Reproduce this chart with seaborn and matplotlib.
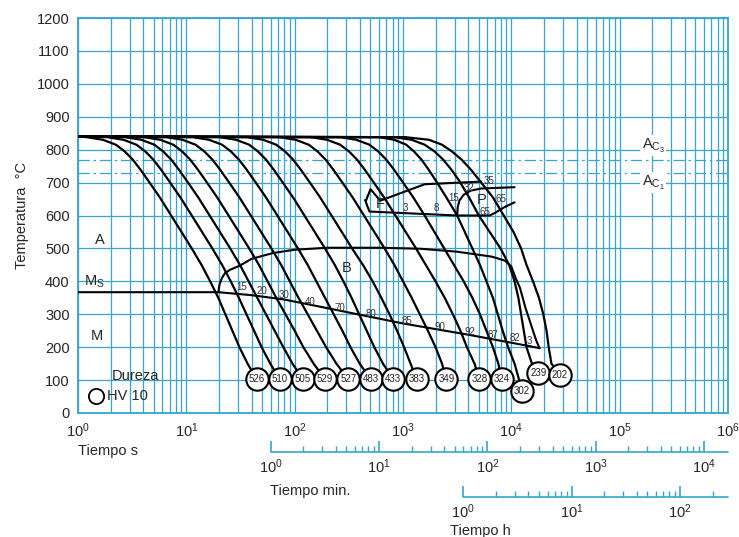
import numpy as np
import pandas as pd
import matplotlib
matplotlib.use('Agg')
import matplotlib.pyplot as plt
from matplotlib.ticker import FixedLocator, NullLocator, MultipleLocator
import seaborn as sns

# --- values (time as log10 of seconds, temperature in degC) ---
T_aust = 840
Ac3 = 770
Ac1 = 730

# temperatures at which each cooling curve was read
temp_levels = [838, 830, 815, 795, 770, 740, 705, 655, 600, 550, 500, 450, 400, 350, 300, 250, 200, 150]

hardness = [526, 510, 505, 529, 527, 483, 433, 383, 349, 328, 324, 302, 239, 202]
circle_logt = [1.65, 1.86, 2.075, 2.28, 2.495, 2.70, 2.91, 3.125, 3.40, 3.705, 3.91, 4.10, 4.25, 4.45]
circle_temp = [103, 103, 103, 103, 103, 103, 103, 103, 103, 103, 103, 67, 122, 116]

# log10(t) where each curve crosses temp_levels
crossing_logt = [
    [0.08, 0.23, 0.35, 0.43, 0.505, 0.575, 0.65, 0.755, 0.86, 0.955, 1.05, 1.14, 1.22, 1.295, 1.36, 1.425, 1.49, 1.565],
    [0.27, 0.42, 0.54, 0.62, 0.695, 0.765, 0.84, 0.945, 1.05, 1.145, 1.24, 1.33, 1.41, 1.485, 1.555, 1.625, 1.695, 1.775],
    [0.435, 0.585, 0.705, 0.785, 0.86, 0.93, 1.005, 1.11, 1.215, 1.31, 1.405, 1.495, 1.575, 1.655, 1.735, 1.815, 1.895, 1.98],
    [0.61, 0.76, 0.88, 0.96, 1.035, 1.105, 1.18, 1.285, 1.39, 1.485, 1.58, 1.67, 1.75, 1.83, 1.915, 2.00, 2.08, 2.175],
    [0.815, 0.965, 1.085, 1.165, 1.24, 1.31, 1.385, 1.49, 1.595, 1.69, 1.785, 1.875, 1.955, 2.035, 2.12, 2.205, 2.29, 2.385],
    [1.06, 1.21, 1.33, 1.41, 1.485, 1.555, 1.63, 1.735, 1.84, 1.935, 2.03, 2.12, 2.20, 2.28, 2.36, 2.44, 2.515, 2.60],
    [1.31, 1.46, 1.58, 1.66, 1.735, 1.805, 1.88, 1.985, 2.09, 2.185, 2.28, 2.37, 2.45, 2.525, 2.595, 2.665, 2.735, 2.815],
    [1.56, 1.71, 1.83, 1.91, 1.985, 2.055, 2.13, 2.235, 2.34, 2.435, 2.53, 2.63, 2.72, 2.80, 2.875, 2.945, 3.01, 3.07],
    [1.86, 2.01, 2.13, 2.21, 2.285, 2.355, 2.43, 2.535, 2.64, 2.735, 2.83, 2.92, 3.00, 3.08, 3.155, 3.23, 3.30, 3.36],
    [2.15, 2.30, 2.42, 2.50, 2.575, 2.645, 2.72, 2.825, 2.93, 3.025, 3.12, 3.21, 3.30, 3.385, 3.46, 3.53, 3.59, 3.66],
    [2.42, 2.57, 2.69, 2.77, 2.845, 2.915, 2.99, 3.095, 3.20, 3.29, 3.38, 3.47, 3.56, 3.64, 3.71, 3.77, 3.83, 3.88],
    [2.78, 2.92, 3.03, 3.10, 3.17, 3.235, 3.305, 3.40, 3.50, 3.57, 3.64, 3.71, 3.77, 3.83, 3.875, 3.92, 3.97, 4.03],
    [2.92, 3.08, 3.20, 3.29, 3.37, 3.445, 3.52, 3.61, 3.70, 3.80, 3.90, 3.98, 4.03, 4.065, 4.09, 4.115, 4.14, 4.19],
    [3.02, 3.24, 3.36, 3.45, 3.54, 3.625, 3.71, 3.83, 3.93, 4.02, 4.09, 4.14, 4.20, 4.255, 4.295, 4.325, 4.345, 4.37],
]

# bainite region: upper boundary and Ms / lower boundary
bain_top_logt = [1.296, 1.305, 1.327, 1.357, 1.403, 1.496, 1.60, 1.80, 2.0, 2.3, 2.8, 3.16, 3.5, 3.82, 3.94, 4.00, 4.04, 4.08, 4.13, 4.18, 4.23, 4.26]
bain_top_temp = [367, 389, 409, 425, 435, 448, 468, 486, 496, 502, 502, 499, 490, 475, 463, 445, 410, 380, 320, 270, 220, 197]
ms_logt = [0.0, 1.296, 1.6, 1.9, 2.4, 3.0, 3.6, 4.17, 4.26]
ms_temp = [367, 367, 358, 345, 312, 272, 238, 203, 197]

# ferrite region outline (top line, nose, bottom line, pearlite end)
ferr_logt = [3.72, 3.20, 2.79, 2.70, 2.66, 2.65, 2.66, 2.69, 2.79, 3.50, 3.80, 3.86, 3.94, 4.03]
ferr_temp = [703, 695, 688, 680, 665, 647, 628, 612, 602, 600, 600, 610, 626, 640]
# pearlite start
pearl_logt = [3.50, 3.505, 3.52, 3.56, 3.62, 3.72, 4.03]
pearl_temp = [600, 625, 645, 663, 675, 682, 686]

bain_pct = ['15', '20', '30', '40', '70', '80', '85', '90', '92', '87', '82', '3']
bain_pct_logt = [1.51, 1.70, 1.90, 2.14, 2.42, 2.70, 3.035, 3.34, 3.62, 3.835, 4.035, 4.17]
bain_pct_temp = [384, 372, 359, 338, 318, 300, 280, 262, 245, 237, 227, 219]

fp_pct = ['3', '8', '15', '32', '35', '65', '65']
fp_pct_logt = [3.02, 3.31, 3.466, 3.61, 3.79, 3.90, 3.76]
fp_pct_temp = [622, 622, 654, 683, 705, 650, 612]

GRID = '#36a5cf'
W, H = 739, 537

sns.set_style('white')
plt.rcParams['font.family'] = ['Liberation Sans', 'DejaVu Sans']
plt.rcParams['mathtext.fontset'] = 'custom'
plt.rcParams['mathtext.rm'] = 'Liberation Sans'
plt.rcParams['mathtext.default'] = 'rm'

fig = plt.figure(figsize=(W / 100, H / 100), dpi=100)
ax = fig.add_axes([78 / W, (H - 413) / H, 650 / W, 395 / H])

# cooling curves: all start at 1 s from the austenitizing temperature and end in their hardness circle
rows = []
for h, lt, ct, ctemp in zip(hardness, crossing_logt, circle_logt, circle_temp):
    xs = [0.0] + lt + [ct]
    ys = [T_aust] + temp_levels + [ctemp]
    for i, (a, b) in enumerate(zip(xs, ys)):
        rows.append({'curve': h, 'order': i, 't': 10 ** a, 'T': b})
curves = pd.DataFrame(rows)

sns.lineplot(data=curves, x='t', y='T', units='curve', estimator=None, sort=False,
             color='black', lw=1.6, ax=ax, zorder=4)

# transformation regions
sns.lineplot(x=10 ** np.array(bain_top_logt), y=bain_top_temp, sort=False, color='black', lw=1.5, ax=ax, zorder=4)
sns.lineplot(x=10 ** np.array(ms_logt), y=ms_temp, sort=False, color='black', lw=1.5, ax=ax, zorder=4)
sns.lineplot(x=10 ** np.array(ferr_logt), y=ferr_temp, sort=False, color='black', lw=1.5, ax=ax, zorder=4)
sns.lineplot(x=10 ** np.array(pearl_logt), y=pearl_temp, sort=False, color='black', lw=1.5, ax=ax, zorder=4)

# hardness circles
sns.scatterplot(x=10 ** np.array(circle_logt), y=circle_temp, s=260, color='white',
                edgecolor='black', linewidth=1.5, ax=ax, zorder=6, legend=False)
for h, ct, ctemp in zip(hardness, circle_logt, circle_temp):
    ax.text(10 ** ct, ctemp, str(h), ha='center', va='center', fontsize=7, color='#222', zorder=7)

for lab, lt, tt in zip(bain_pct, bain_pct_logt, bain_pct_temp):
    ax.text(10 ** lt, tt, lab, ha='center', va='center', fontsize=7, color='#333', zorder=5)
for lab, lt, tt in zip(fp_pct, fp_pct_logt, fp_pct_temp):
    ax.text(10 ** lt, tt, lab, ha='center', va='center', fontsize=7, color='#333', zorder=5)

# Ac lines
for temp in (Ac3, Ac1):
    ax.axhline(temp, color=GRID, lw=0.9, ls=(0, (9, 3, 2, 3)), zorder=1)
ax.text(10 ** 5.31, 812, r'A$_{\mathregular{C}_3}$', ha='center', va='center', fontsize=10.5,
        bbox=dict(fc='white', ec='none', pad=1), zorder=5)
ax.text(10 ** 5.31, 699, r'A$_{\mathregular{C}_1}$', ha='center', va='center', fontsize=10.5,
        bbox=dict(fc='white', ec='none', pad=1), zorder=5)

# phase labels
ax.text(10 ** 0.20, 526, 'A', ha='center', va='center', fontsize=10.5)
ax.text(10 ** 0.15, 398, r'M$_{\mathregular{S}}$', ha='center', va='center', fontsize=10.5)
ax.text(10 ** 0.17, 234, 'M', ha='center', va='center', fontsize=10.5)
ax.text(10 ** 2.48, 441, 'B', ha='center', va='center', fontsize=10.5, zorder=5)
ax.text(10 ** 2.79, 635, 'F', ha='center', va='center', fontsize=10.5, zorder=5)
ax.text(10 ** 3.73, 647, 'P', ha='center', va='center', fontsize=10.5, zorder=5)
ax.text(10 ** 0.53, 112, 'Dureza', ha='center', va='center', fontsize=10.5, zorder=5)
ax.scatter([10 ** 0.166], [52], s=120, facecolor='white', edgecolor='black', linewidth=1.3, zorder=6)
ax.text(10 ** 0.27, 52, 'HV 10', ha='left', va='center', fontsize=10.5, zorder=5)

ax.set_xscale('log')
ax.set_xlim(1, 1e6)
ax.set_ylim(0, 1200)
decades = [10 ** d for d in range(0, 7)]
ax.xaxis.set_major_locator(FixedLocator(decades))
ax.xaxis.set_minor_locator(FixedLocator([k * 10 ** d for d in range(0, 6) for k in range(2, 10)]))
ax.set_xticklabels([rf'$10^{{{d}}}$' for d in range(0, 7)])
ax.yaxis.set_major_locator(MultipleLocator(100))
ax.grid(which='both', axis='x', color=GRID, lw=0.9)
ax.grid(which='major', axis='y', color=GRID, lw=0.9)
ax.set_axisbelow(True)
ax.tick_params(which='both', length=0, labelsize=10.5, pad=6)
ax.set_xlabel('')
ax.set_ylabel('')
for sp in ax.spines.values():
    sp.set_color(GRID)
    sp.set_linewidth(1.3)

fig.text(22 / W, 1 - 215 / H, 'Temperatura  °C', rotation=90, ha='center', va='center', fontsize=10.5)
fig.text(108 / W, 1 - 451 / H, 'Tiempo s', ha='center', va='center', fontsize=10.5)
fig.text(310 / W, 1 - 491 / H, 'Tiempo min.', ha='center', va='center', fontsize=10.5)
fig.text(480 / W, 1 - 531 / H, 'Tiempo h', ha='center', va='center', fontsize=10.5)


def time_scale(y_px, factor):
    sub = fig.add_axes([78 / W, (H - y_px) / H, 650 / W, 11 / H])
    sub.set_xscale('log')
    sub.set_xlim(1 / factor, 1e6 / factor)
    sub.set_ylim(0, 1)
    top = 1e6 / factor
    decs = [d for d in range(0, 7) if 10 ** d <= top]
    minors = [k * 10 ** d for d in range(0, 7) for k in range(2, 10) if k * 10 ** d <= top]
    sub.plot([1, top], [0, 0], color=GRID, lw=1.2, clip_on=False)
    sub.vlines([10 ** d for d in decs], 0, 1, color=GRID, lw=1.2)
    sub.vlines(minors, 0, 0.55, color=GRID, lw=1.0)
    sub.xaxis.set_major_locator(FixedLocator([10 ** d for d in decs]))
    sub.set_xticklabels([rf'$10^{{{d}}}$' for d in decs])
    sub.xaxis.set_minor_locator(NullLocator())
    sub.set_yticks([])
    sub.tick_params(length=0, labelsize=10.5, pad=4)
    for sp in sub.spines.values():
        sp.set_visible(False)
    sub.patch.set_alpha(0)


time_scale(452, 60)
time_scale(497, 3600)

fig.savefig('out.png', dpi=100)
